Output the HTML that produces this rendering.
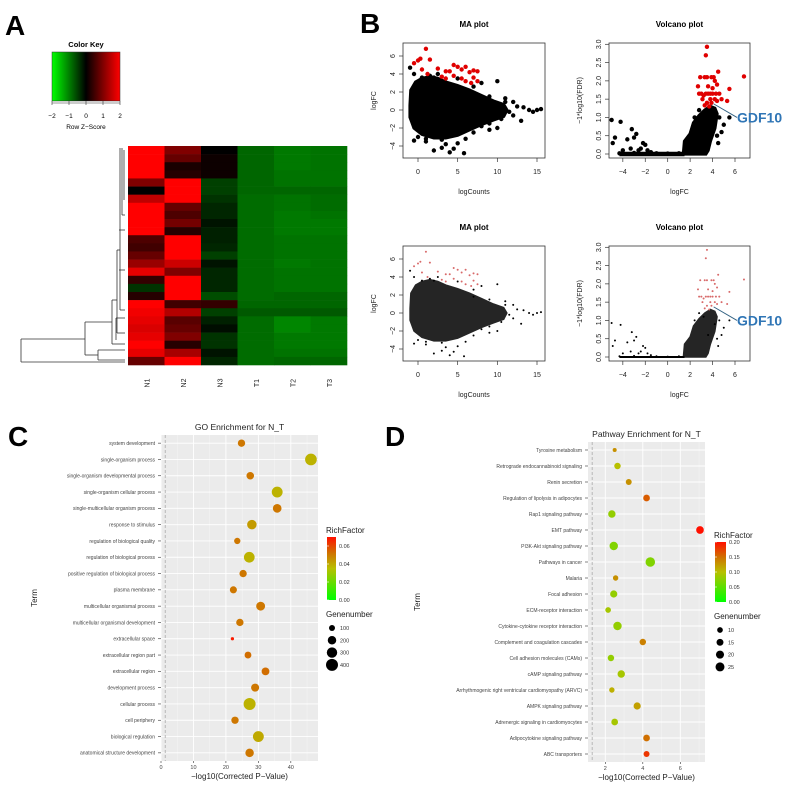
<!DOCTYPE html>
<html><head><meta charset="utf-8"><style>
html,body{margin:0;padding:0;background:#fff;}
svg{display:block;font-family:"Liberation Sans",Arial,sans-serif;}
</style></head><body>
<svg id="fig" width="800" height="785" viewBox="0 0 800 785" xmlns="http://www.w3.org/2000/svg">
<text x="5" y="35" font-size="28" font-weight="bold">A</text>
<text x="360" y="33" font-size="28" font-weight="bold">B</text>
<text x="8" y="446" font-size="28" font-weight="bold">C</text>
<text x="385" y="446" font-size="28" font-weight="bold">D</text>
<defs>
<linearGradient id="keyGrad" x1="0" x2="1" y1="0" y2="0"><stop offset="0" stop-color="#00ff00"/><stop offset="0.5" stop-color="#000"/><stop offset="1" stop-color="#ff0000"/></linearGradient>
<linearGradient id="rfGrad" x1="0" x2="0" y1="1" y2="0"><stop offset="0" stop-color="#00ff00"/><stop offset="0.5" stop-color="#b8c000"/><stop offset="0.75" stop-color="#d07000"/><stop offset="1" stop-color="#ff1000"/></linearGradient>
</defs>
<g id="panelA"></g>
<g id="panelB"></g>
<g id="panelC"></g>
<g id="panelD"></g>
</svg>
<script>
// ---------- Heatmap data ----------
const hmCols = ["N1","N2","N3","T1","T2","T3"];
const hmRows = [
[2,1.0,0,-0.8,-0.95,-0.9],[2,0.8,0.1,-0.8,-0.95,-0.9],[2,0.2,0.1,-0.8,-0.95,-0.9],[2,0.3,0.1,-0.8,-0.9,-0.9],
[1.0,2,-0.5,-0.8,-0.9,-0.9],[0,2,-0.5,-0.8,-0.8,-0.8],[1.5,2,-0.4,-0.85,-0.9,-0.85],[2,0.8,-0.3,-0.85,-0.9,-0.85],
[2,0.6,-0.3,-0.85,-0.95,-0.9],[2,0.9,-0.15,-0.85,-0.95,-0.95],[2,0.3,-0.25,-0.85,-0.95,-0.95],[0.6,2,-0.25,-0.85,-0.9,-0.9],
[0.5,2,-0.3,-0.85,-0.9,-0.9],[0.8,2,-0.5,-0.85,-0.9,-0.9],[1.2,1.6,-0.15,-0.85,-0.95,-0.9],[1.8,1.0,-0.3,-0.85,-0.9,-0.9],
[0.4,2,-0.3,-0.85,-0.9,-0.9],[-0.4,2,-0.3,-0.85,-0.9,-0.9],[0.3,2,-0.6,-0.85,-0.8,-0.8],[2,0.5,0.4,-0.8,-0.8,-0.8],
[1.9,1.4,-0.5,-0.7,-0.7,-0.7],[1.8,0.7,-0.25,-0.85,-1.05,-0.95],[1.7,0.8,-0.1,-0.85,-1.05,-0.95],[1.8,1.0,-0.4,-0.85,-0.95,-0.95],
[2,0.3,-0.4,-0.85,-0.95,-0.95],[1.8,1.3,-0.15,-0.85,-0.9,-0.9],[0.8,2,-0.3,-0.85,-0.8,-0.8]];
const keyTicks = [-2,-1,0,1,2];

// ---------- MA / volcano data ----------
const maBlob = [[-1,0.5],[-0.9,2.2],[-0.3,3.1],[0.5,3.5],[1.5,3.7],[2.5,3.5],[3.5,3.1],[5,2.7],[6.5,2.2],[8,1.6],[9.5,1.0],[10.8,0.6],[11.2,0],[10.8,-0.7],[9.5,-1.1],[8,-1.6],[6.5,-2.2],[5,-2.8],[3.5,-3.1],[2,-3.1],[0.5,-2.7],[-0.5,-2.0],[-1,-0.8]];
const maBlack = [[-1,4.7],[10,3.2],[11,1.3],[12,0.9],[13.3,0.3],[14,0],[14.5,-0.2],[15,0],[15.5,0.1],[13,-1.2],[12.5,0.4],[11.5,-0.2],[3,-4.2],[4,-4.7],[5.8,-4.8],[1,-3.5],[2,-4.5],[4.5,-4.3],[-0.5,-3.4],[3.5,-3.8],[9,-2.2],[10,-2],[7,-2.5],[8,3],[7,1.8],[5,3.5],[2,3.6],[1,-3.2],[6,-3.2],[1.5,3.8],[0.5,3.6],[3,-3.3],[5,-3.7],[8,-1.8],[9,1.5],[10.5,-1],[11,0.9],[12,-0.6],[-0.5,4],[2.5,4],[7,2.6],[9,-1.5],[0,-3]];
const maRed = [[-0.5,5.2],[0,5.5],[0.3,5.7],[1,6.8],[1.5,5.6],[0.5,4.5],[1.2,4],[2.5,4.6],[3.5,4.3],[4,4.3],[4.5,5],[5,4.8],[5.5,4.5],[6,4.8],[6.5,4.2],[7,4.4],[7.5,4.3],[3,3.7],[4.5,3.8],[5.5,3.5],[6,3.2],[6.7,3],[7,3.6],[7.5,3.2],[3.5,3.5]];
const maXTicks = [0,5,10,15];
const maYTicks = [-4,-2,0,2,4,6];
const vBlob = [[1.4,0],[1.5,0.35],[2,0.55],[2.3,0.85],[2.8,1.05],[3.3,1.2],[3.8,1.3],[4.2,1.25],[4.4,1.1],[4.2,0.7],[3.8,0.35],[3.6,0.1],[3.4,0]];
const vBlack = [[-5,0.93],[-4.2,0.88],[-3.2,0.68],[-3,0.45],[-2.8,0.55],[-4.9,0.3],[-4.7,0.45],[-3.6,0.4],[-2.2,0.3],[-2,0.25],[-2.4,0.15],[-4,0.1],[-3.3,0.15],[-2.6,0.1],[-1.8,0.1],[-1.5,0.05],[-4.3,0.02],[-3,0.03],[-1,0.02],[0,0.01],[1,0.02],[4.5,0.3],[5.5,1.0],[4.8,0.6],[4.2,0.9],[2.8,1.2],[3.2,1.1],[4.6,1.0],[5,0.8],[2.4,1.0],[3.6,0.6],[4.4,0.5]];
const vRed = [[3.5,2.93],[3.4,2.7],[3.3,2.1],[3.5,2.1],[2.9,2.1],[3.9,2.1],[4.1,2.1],[4.5,2.25],[4.2,2.0],[5.5,1.78],[6.8,2.12],[2.8,1.65],[3.0,1.65],[3.2,1.6],[3.4,1.65],[3.6,1.65],[3.8,1.65],[4.0,1.65],[4.3,1.65],[4.6,1.65],[3.1,1.5],[3.5,1.4],[3.8,1.5],[4.2,1.5],[4.4,1.45],[4.8,1.5],[5.3,1.45],[3.3,1.33],[3.7,1.3],[4.0,1.8],[4.4,1.9],[3.9,1.4],[2.7,1.85],[3.6,1.85]];
const vXTicks = [-4,-2,0,2,4,6];
const vYTicks = [0,0.5,1,1.5,2,2.5,3];

// ---------- GO data ----------
const goTerms = ["system development","single-organism process","single-organism developmental process","single-organism cellular process","single-multicellular organism process","response to stimulus","regulation of biological quality","regulation of biological process","positive regulation of biological process","plasma membrane","multicellular organismal process","multicellular organismal development","extracellular space","extracellular region part","extracellular region","development process","cellular process","cell periphery","biological regulation","anatomical structure development"];
const goP = [24.8,46.2,27.5,35.8,35.8,28,23.5,27.2,25.3,22.3,30.7,24.3,22,26.8,32.2,29,27.3,22.8,30,27.3];
const goGenes = [150,380,160,330,210,250,110,320,150,140,220,150,30,130,170,180,400,150,330,200];
const goRich = [0.051,0.038,0.051,0.038,0.051,0.043,0.051,0.038,0.051,0.051,0.051,0.051,0.068,0.053,0.053,0.051,0.038,0.051,0.04,0.051];
const goXTicks = [0,10,20,30,40];
const goRfTicks = [0,0.02,0.04,0.06];
const goSizeTicks = [100,200,300,400];

// ---------- Pathway data ----------
const pwTerms = ["Tyrosine metabolism","Retrograde endocannabinoid signaling","Renin secretion","Regulation of lipolysis in adipocytes","Rap1 signaling pathway","EMT pathway","PI3K-Akt signaling pathway","Pathways in cancer","Malaria","Focal adhesion","ECM-receptor interaction","Cytokine-cytokine receptor interaction","Complement and coagulation cascades","Cell adhesion molecules (CAMs)","cAMP signaling pathway","Arrhythmogenic right ventricular cardiomyopathy (ARVC)","AMPK signaling pathway","Adrenergic signaling in cardiomyocytes","Adipocytokine signaling pathway","ABC transporters"];
const pwP = [2.5,2.65,3.25,4.2,2.35,7.05,2.45,4.4,2.55,2.45,2.15,2.65,4.0,2.3,2.85,2.35,3.7,2.5,4.2,4.2];
const pwGenes = [5,13,11,14,17,18,22,28,9,16,10,22,13,13,17,9,16,14,14,11];
const pwRich = [0.13,0.1,0.13,0.16,0.08,0.2,0.07,0.07,0.13,0.08,0.09,0.08,0.14,0.08,0.09,0.11,0.12,0.09,0.15,0.18];
const pwXTicks = [2,4,6];
const pwRfTicks = [0,0.05,0.1,0.15,0.2];
const pwSizeTicks = [10,15,20,25];

const NS="http://www.w3.org/2000/svg";
function mk(parent, tag, attrs, text){const e=document.createElementNS(NS,tag);for(const k in attrs)e.setAttribute(k,attrs[k]);if(text!==undefined)e.textContent=text;parent.appendChild(e);return e;}

// ===== Panel A =====
(function(){
const g=document.getElementById('panelA');
const x0=128,x1=347,y0=146,y1=365;
const cw=(x1-x0)/hmCols.length, rh=(y1-y0)/hmRows.length;
function zc(z){z=Math.max(-2,Math.min(2,z));if(z>=0){return `rgb(${Math.round(255*z/2)},0,0)`;}return `rgb(0,${Math.round(255*(-z)/2)},0)`;}
hmRows.forEach((row,i)=>row.forEach((v,j)=>{
 const r=mk(g,'rect',{x:x0+j*cw,y:y0+i*rh,width:cw+0.3,height:rh+0.3,fill:zc(v)});
 
 
}));
hmCols.forEach((c,j)=>{
 const cx=x0+(j+0.5)*cw+3;
 const t=mk(g,'text',{x:cx,y:383,'font-size':7,transform:`rotate(-90 ${cx} 383)`,'text-anchor':'middle',fill:'#222'},c);
 
 
});
const dg=mk(g,'g',{stroke:'#333','stroke-width':0.8,fill:'none'});


const ls=[[21,339,21,362],[21,339,85,339],[21,362,125,362],[85,322,85,355],[85,322,112,322],[85,355,98,355],[98,350,98,360],[98,350,125,350],[98,360,125,360],[112,300,112,344],[112,344,125,344],[112,300,117,300],[117,250,117,333],[117,333,125,333],[117,250,120,250],[120,148,120,310],[122,148,122,215],[124,150,124,200],[122,215,125,215],[120,310,125,310],[116,318,125,318],[116,318,116,340],[119,270,125,270],[119,230,125,230]];
ls.forEach(l=>mk(dg,'line',{x1:l[0],y1:l[1],x2:l[2],y2:l[3]}));
const kg=mk(g,'g',{});


mk(kg,'text',{x:86,y:47,'font-size':7.5,'font-weight':'bold','text-anchor':'middle'},'Color Key');
mk(kg,'rect',{x:52,y:52,width:68,height:49,fill:'url(#keyGrad)',stroke:'#333','stroke-width':0.5});
keyTicks.forEach(t=>{const x=52+(t+2)/4*68;mk(kg,'line',{x1:x,x2:x,y1:101,y2:105,stroke:'#333','stroke-width':0.6});mk(kg,'text',{x:x,y:118,'font-size':6.5,'text-anchor':'middle'},(t<0?'\u2212':'')+Math.abs(t));});
mk(kg,'line',{x1:52,x2:120,y1:103,y2:103,stroke:'#333','stroke-width':0.6});
mk(kg,'text',{x:86,y:129,'font-size':6.5,'text-anchor':'middle'},'Row Z\u2212Score');
})();

// ===== Panel B =====
function scatterPlot(g, box, xr, yr, xt, yt, blobs, black, red, pr, title, xl, yl, ytFmt, bandLine){
 const [bx0,by0,bx1,by1]=box;
 const sx=v=>xr[2]+(v-xr[0])*(xr[3]-xr[2])/(xr[1]-xr[0]);
 const sy=v=>yr[2]+(v-yr[0])*(yr[3]-yr[2])/(yr[1]-yr[0]);
 const t=mk(g,'text',{x:(bx0+bx1)/2,y:by0-16,'font-size':8,'font-weight':'bold','text-anchor':'middle'},title);
 
 
 blobs.forEach(b=>{const p=mk(g,'polygon',{points:b.map(q=>sx(q[0])+','+sy(q[1])).join(' '),fill:'#000',stroke:'#000','stroke-width':pr*1.5,opacity:pr<1.5?0.85:1});
  
  });
 if(bandLine){const l=mk(g,'line',{x1:sx(bandLine[0]),x2:sx(bandLine[1]),y1:sy(0),y2:sy(0),stroke:'#000','stroke-width':pr*2});
  
  }
 black.forEach(q=>{const c=mk(g,'circle',{cx:sx(q[0]),cy:sy(q[1]),r:pr,fill:'#000'});
  
  });
 red.forEach(q=>{const c=mk(g,'circle',{cx:sx(q[0]),cy:sy(q[1]),r:pr,fill:pr<1.5?'#d86a6a':'#e00000'});
  
  });
 const fr=mk(g,'rect',{x:bx0,y:by0,width:bx1-bx0,height:by1-by0,fill:'none',stroke:'#333','stroke-width':0.8});
 
 
 xt.forEach(v=>{const x=sx(v);mk(g,'line',{x1:x,x2:x,y1:by1,y2:by1+4,stroke:'#333','stroke-width':0.7});
  const tt=mk(g,'text',{x:x,y:by1+16,'font-size':7,'text-anchor':'middle',fill:'#222'},(v<0?'\u2212':'')+Math.abs(v));
  
  });
 yt.forEach(v=>{const y=sy(v);mk(g,'line',{x1:bx0-4,x2:bx0,y1:y,y2:y,stroke:'#333','stroke-width':0.7});
  const s=ytFmt(v);const tt=mk(g,'text',{x:bx0-8,y:y,'font-size':7,'text-anchor':'middle',fill:'#222',transform:`rotate(-90 ${bx0-8} ${y})`},s);
  
  });
 const xa=mk(g,'text',{x:(bx0+bx1)/2,y:by1+36,'font-size':7,'text-anchor':'middle',fill:'#222'},xl);
 
 
 const yx=bx0-27,yy=(by0+by1)/2;
 const ya=mk(g,'text',{x:yx,y:yy,'font-size':7,'text-anchor':'middle',fill:'#222',transform:`rotate(-90 ${yx} ${yy})`},yl);
 
 
 return {sx,sy};
}
(function(){
const g=document.getElementById('panelB');
const fmtI=v=>(v<0?'\u2212':'')+Math.abs(v);
const fmtD=v=>v.toFixed(1);
[[0,2.2],[203,1.0]].forEach(([off,pr])=>{
 const ma=mk(g,'g',{});
 
 
 scatterPlot(ma,[403,43+off,545,158+off],[0,15,418,537],[0,6,110+off,56+off],maXTicks,maYTicks,[maBlob],maBlack,maRed,pr,'MA plot','logCounts','logFC',fmtI,null);
 const vo=mk(g,'g',{});
 
 
 const s=scatterPlot(vo,[609,43+off,750,158+off],[0,6,667.7,735],[0,3,154+off,44.3+off],vXTicks,vYTicks,[vBlob],vBlack,vRed,pr,'Volcano plot','logFC','\u22121*log10(FDR)',fmtD,[-4.3,1.5]);
 mk(vo,'line',{x1:s.sx(4.1),y1:s.sy(1.37),x2:737,y2:s.sy(1.0),stroke:'#2f5f80','stroke-width':0.9});
 const lab=mk(vo,'text',{x:737,y:s.sy(1.0)+5,'font-size':14,'font-weight':'bold',fill:'#2f75b5'},'GDF10');
 
 
});
})();

// ===== Panels C & D =====
const rfStops=[[0,[0,255,0]],[0.5,[184,192,0]],[0.75,[208,112,0]],[1,[255,16,0]]];
function rfColor(t){t=Math.max(0,Math.min(1,t));
 for(let i=1;i<rfStops.length;i++){if(t<=rfStops[i][0]){const [t0,a]=rfStops[i-1],[t1,b]=rfStops[i];const u=(t-t0)/(t1-t0);
  return `rgb(${a.map((c,k)=>Math.round(c+(b[k]-c)*u)).join(',')})`;}}
 return 'rgb(255,16,0)';}
function dotPlot(g,o){
 const {x0,x1,y0,y1,xmin,xmax,terms,px,genes,rich,rmax,rad,xt,minor,title,leg}=o;
 const sx=v=>x0+(v-xmin)*(x1-x0)/(xmax-xmin);
 const n=terms.length, step=(y1-y0)/n, sy=i=>y0+step*(i+0.5);
 const tt=mk(g,'text',{x:(x0+x1)/2,y:y0-5,'font-size':8.5,'text-anchor':'middle',fill:'#222'},title);
 
 
 const bg=mk(g,'rect',{x:x0,y:y0,width:x1-x0,height:y1-y0,fill:'#ebebeb'});
 
 
 minor.forEach(v=>mk(g,'line',{x1:sx(v),x2:sx(v),y1:y0,y2:y1,stroke:'#f6f6f6','stroke-width':0.5}));
 xt.forEach(v=>mk(g,'line',{x1:sx(v),x2:sx(v),y1:y0,y2:y1,stroke:'#fff','stroke-width':0.9}));
 terms.forEach((t,i)=>mk(g,'line',{x1:x0,x2:x1,y1:sy(i),y2:sy(i),stroke:'#fff','stroke-width':0.9}));
 mk(g,'line',{x1:sx(1.3),x2:sx(1.3),y1:y0,y2:y1,stroke:'#aaa','stroke-width':0.8,'stroke-dasharray':'3,2'});
 terms.forEach((t,i)=>{
  mk(g,'line',{x1:x0-3,x2:x0,y1:sy(i),y2:sy(i),stroke:'#333','stroke-width':0.6});
  const l=mk(g,'text',{x:x0-6,y:sy(i)+1.8,'font-size':5,'text-anchor':'end',fill:'#444'},t);
  
  
  const c=mk(g,'circle',{cx:sx(px[i]),cy:sy(i),r:rad(genes[i]),fill:rfColor(rich[i]/rmax)});
  
  
 });
 xt.forEach(v=>{mk(g,'line',{x1:sx(v),x2:sx(v),y1:y1,y2:y1+2,stroke:'#333','stroke-width':0.6});
  const l=mk(g,'text',{x:sx(v),y:y1+8,'font-size':5.5,'text-anchor':'middle',fill:'#444'},v);
  
  });
 const xa=mk(g,'text',{x:(x0+x1)/2,y:y1+18,'font-size':8,'text-anchor':'middle',fill:'#222'},'\u2212log10(Corrected P\u2212Value)');
 
 
 const yx=o.termX, yy=(y0+y1)/2;
 const ya=mk(g,'text',{x:yx,y:yy,'font-size':8,'text-anchor':'middle',fill:'#222',transform:`rotate(-90 ${yx} ${yy})`},'Term');
 
 
 const lg=mk(g,'g',{});
 
 
 mk(lg,'text',{x:leg.x,y:leg.cby0-4,'font-size':8,fill:'#222'},'RichFactor');
 mk(lg,'rect',{x:leg.x+1,y:leg.cby0,width:leg.cbw,height:leg.cby1-leg.cby0,fill:'url(#rfGrad)'});
 leg.rf.forEach(v=>{const y=leg.cby1-(v/rmax)*(leg.cby1-leg.cby0);
  mk(lg,'line',{x1:leg.x+1,x2:leg.x+3,y1:y,y2:y,stroke:'#fff','stroke-width':0.6});
  mk(lg,'text',{x:leg.x+leg.cbw+4,y:y+2,'font-size':5.5,fill:'#333'},v.toFixed(2));});
 mk(lg,'text',{x:leg.x,y:leg.gy,'font-size':8,fill:'#222'},'Genenumber');
 leg.sz.forEach((v,i)=>{const y=leg.gy+11+i*12.3;
  mk(lg,'circle',{cx:leg.x+6,cy:y,r:rad(v),fill:'#000'});
  mk(lg,'text',{x:leg.x+14,y:y+2,'font-size':5.5,fill:'#333'},v);});
}
dotPlot(document.getElementById('panelC'),{x0:161,x1:318,y0:435,y1:761,xmin:0,xmax:(318-160.3)/3.26,terms:goTerms,px:goP,genes:goGenes,rich:goRich,rmax:0.07,
 rad:n=>0.3*Math.sqrt(n),xt:goXTicks,minor:[5,15,25,35,45],title:'GO Enrichment for N_T',termX:37,
 leg:{x:326,cby0:537,cby1:600,cbw:9,rf:goRfTicks,gy:617,sz:goSizeTicks}});
dotPlot(document.getElementById('panelD'),{x0:588,x1:705,y0:442,y1:762,xmin:(588-567.8)/18.75,xmax:(705-567.8)/18.75,terms:pwTerms,px:pwP,genes:pwGenes,rich:pwRich,rmax:0.2,
 rad:n=>0.9*Math.sqrt(n),xt:pwXTicks,minor:[3,5,7],title:'Pathway Enrichment for N_T',termX:420,
 leg:{x:714,cby0:542,cby1:602,cbw:11,rf:pwRfTicks,gy:619,sz:pwSizeTicks}});
</script>
</body></html>
